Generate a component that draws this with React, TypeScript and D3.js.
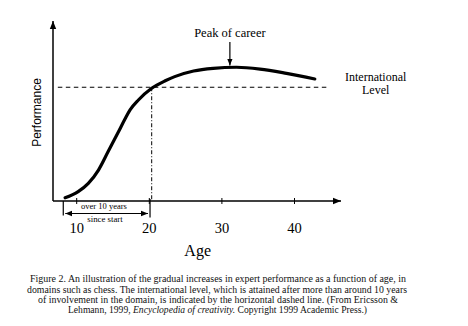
import React from "react";
import * as d3 from "d3";

const ages = [8.4, 10.2, 11.6, 13.0, 14.35, 15.7, 16.65, 17.35, 18.5, 20.33, 22.2, 23.5, 26.1, 28.8, 32.0, 35.25, 38.9, 42.8];
const performance = [1.8, 5.2, 9.8, 17.2, 27.6, 38.0, 45.5, 50.6, 56.1, 62.6, 66.8, 69.1, 72.2, 73.7, 74.3, 73.3, 70.9, 67.8];
const xTicks = [10, 20, 30, 40];
const internationalLevel = 63.2;
const levelStartAge = 7.4;
const levelEndAge = 44.4;
const crossAge = 20.33;
const peakAge = 31.1;
const startAge = 8.15;
const tenYearsAge = 20.1;
const captionLines = [
  "Figure 2.  An illustration of the gradual increases in expert performance as a function of age, in",
  "domains such as chess. The international level, which is attained after more than around 10 years",
  "of involvement in the domain, is indicated by the horizontal dashed line. (From Ericsson &",
];
const captionLast = ["Lehmann, 1999, ", "Encyclopedia of creativity.", " Copyright 1999 Academic Press.)"];

const serif = "'Liberation Serif', 'Times New Roman', serif";
const sans = "'Liberation Sans', Arial, sans-serif";

export default function App() {
  const W = 468, H = 326;
  const x = d3.scaleLinear().domain([10, 40]).range([76.7, 294.5]);
  const y = d3.scaleLinear().domain([0, 100]).range([201, 21]);
  const axisX0 = 53;
  const axisXEnd = 341;
  const line = d3
    .line<number>()
    .x((_, i) => x(ages[i]))
    .y((d) => y(d))
    .curve(d3.curveMonotoneX);

  const capStarts = [30, 27, 38, 68];
  const capWidths = [376, 380, 360, 299];
  const capBase = [282, 292.5, 302.8, 313];

  return (
    <svg width={W} height={H} style={{ position: "absolute", left: 0, top: 0, background: "#fff" }}>
      <defs>
        <marker id="ah" viewBox="0 0 10 10" refX="10" refY="5" markerWidth="8" markerHeight="8" markerUnits="userSpaceOnUse" orient="auto-start-reverse">
          <path d="M0,1 L10,5 L0,9 Z" fill="#000" />
        </marker>
        <marker id="ahs" viewBox="0 0 10 10" refX="10" refY="5" markerWidth="7" markerHeight="7" markerUnits="userSpaceOnUse" orient="auto-start-reverse">
          <path d="M0,1 L10,5 L0,9 Z" fill="#000" />
        </marker>
      </defs>
      {/* axes */}
      <line x1={axisX0} y1={y(0)} x2={axisX0} y2={21} stroke="#000" strokeWidth={1.5} markerEnd="url(#ah)" />
      <line x1={axisX0} y1={y(0)} x2={axisXEnd} y2={y(0)} stroke="#000" strokeWidth={1.5} markerEnd="url(#ah)" />
      {xTicks.map((t) => (
        <g key={t}>
          <line x1={x(t)} x2={x(t)} y1={y(0) - 3} y2={y(0) + 3} stroke="#000" strokeWidth={1} />
          <text x={x(t)} y={233} textAnchor="middle" fontFamily={serif} fontSize={14.5}>
            {t}
          </text>
        </g>
      ))}
      <text x={197.7} y={256} textAnchor="middle" fontFamily={serif} fontSize={16}>
        Age
      </text>
      <text transform="translate(40.5,112.5) rotate(-90)" textAnchor="middle" fontFamily={sans} fontSize={12}>
        Performance
      </text>
      {/* international level */}
      <line x1={x(levelStartAge)} x2={x(levelEndAge)} y1={y(internationalLevel)} y2={y(internationalLevel)} stroke="#000" strokeWidth={1.1} strokeDasharray="4.5,3.5" />
      <line x1={x(crossAge)} x2={x(crossAge)} y1={y(internationalLevel)} y2={y(0)} stroke="#000" strokeWidth={1} strokeDasharray="4,2,1,2" />
      <text x={375.7} y={80.5} textAnchor="middle" fontFamily={serif} fontSize={12}>
        International
      </text>
      <text x={375.7} y={93.5} textAnchor="middle" fontFamily={serif} fontSize={12}>
        Level
      </text>
      {/* curve */}
      <path d={line(performance) || ""} fill="none" stroke="#000" strokeWidth={3.2} strokeLinecap="round" />
      {/* peak */}
      <text x={x(peakAge)} y={36.7} textAnchor="middle" fontFamily={serif} fontSize={12.5}>
        Peak of career
      </text>
      <line x1={x(peakAge)} x2={x(peakAge)} y1={42} y2={65.5} stroke="#000" strokeWidth={1.2} markerEnd="url(#ahs)" />
      {/* bracket */}
      <line x1={x(startAge)} x2={x(startAge)} y1={y(0)} y2={215.5} stroke="#000" strokeWidth={1.2} />
      <line x1={x(tenYearsAge)} x2={x(tenYearsAge)} y1={y(0) - 2} y2={217.5} stroke="#000" strokeWidth={1.2} />
      <line x1={x(startAge) + 2} x2={x(tenYearsAge) - 2} y1={213.5} y2={213.5} stroke="#000" strokeWidth={1} markerStart="url(#ahs)" markerEnd="url(#ahs)" />
      <text x={104} y={209} textAnchor="middle" fontFamily={serif} fontSize={8.5}>
        over 10 years
      </text>
      <text x={105} y={222.3} textAnchor="middle" fontFamily={serif} fontSize={8.8}>
        since start
      </text>
      {/* caption */}
      {captionLines.map((c, i) => (
        <text key={i} x={capStarts[i]} y={capBase[i]} fontFamily={serif} fontSize={10.5} textLength={capWidths[i]} lengthAdjust="spacingAndGlyphs" fill="#111">
          {c}
        </text>
      ))}
      <text x={capStarts[3]} y={capBase[3]} fontFamily={serif} fontSize={10.5} textLength={capWidths[3]} lengthAdjust="spacingAndGlyphs" fill="#111">
        <tspan>{captionLast[0]}</tspan>
        <tspan fontStyle="italic">{captionLast[1]}</tspan>
        <tspan>{captionLast[2]}</tspan>
      </text>
    </svg>
  );
}
